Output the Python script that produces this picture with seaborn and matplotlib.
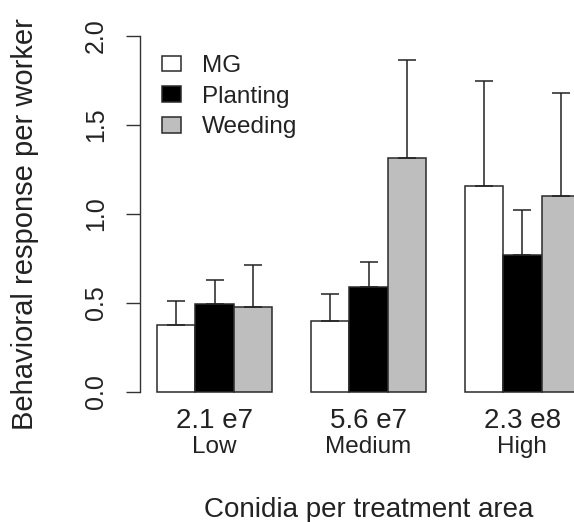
import matplotlib
matplotlib.use("Agg")
import matplotlib.pyplot as plt
import matplotlib.transforms as mtransforms
import seaborn as sns
import pandas as pd
from matplotlib.patches import Patch

# ---- data ----
concentrations = ["2.1 e7", "5.6 e7", "2.3 e8"]
levels = ["Low", "Medium", "High"]
groups = ["MG", "Planting", "Weeding"]
mg_mean = [0.376, 0.401, 1.159]
mg_se = [0.135, 0.148, 0.586]
planting_mean = [0.496, 0.590, 0.770]
planting_se = [0.133, 0.142, 0.254]
weeding_mean = [0.478, 1.316, 1.101]
weeding_se = [0.235, 0.547, 0.580]
colors = {"MG": "white", "Planting": "black", "Weeding": "#BEBEBE"}

means = {"MG": mg_mean, "Planting": planting_mean, "Weeding": weeding_mean}
ses = {"MG": mg_se, "Planting": planting_se, "Weeding": weeding_se}
rows = []
for g in groups:
    for c, m, s in zip(concentrations, means[g], ses[g]):
        rows.append({"conc": c, "group": g, "value": m, "se": s})
df = pd.DataFrame(rows)

sns.set_style("white")
plt.rcParams["font.family"] = ["Liberation Sans", "DejaVu Sans"]

W, H = 574, 522
fig = plt.figure(figsize=(W / 100, H / 100), dpi=100)
ax_left, ax_right = 140, 597
ax_top, ax_bot = 21.76, 406.24
ax = fig.add_axes([ax_left / W, 1 - ax_bot / H, (ax_right - ax_left) / W, (ax_bot - ax_top) / H])

sns.barplot(data=df, x="conc", y="value", hue="group", order=concentrations,
            hue_order=groups, palette=colors, edgecolor="#2a2a2a", linewidth=1.1,
            width=0.75, errorbar=None, legend=False, ax=ax)

# upper error bars
for cont, g in zip(ax.containers, groups):
    xs = [b.get_x() + b.get_width() / 2 for b in cont]
    hs = [b.get_height() for b in cont]
    ax.errorbar(xs, hs, yerr=[[0] * len(hs), ses[g]], fmt="none", ecolor="#222222",
                elinewidth=1.1, capsize=6.5, capthick=1.1, zorder=3)

ax.set_xlim(-0.485, 2.485)
ax.set_ylim(-0.08, 2.08)

for s in ["top", "right", "bottom"]:
    ax.spines[s].set_visible(False)
ax.spines["left"].set_bounds(0, 2)
ax.spines["left"].set_color("#333333")
ax.spines["left"].set_linewidth(1.0)

ax.set_yticks([0, 0.5, 1.0, 1.5, 2.0])
ax.set_yticklabels(["0.0", "0.5", "1.0", "1.5", "2.0"])
ax.tick_params(axis="y", direction="out", length=10, width=1.0, color="#333333",
               pad=13, labelsize=18, labelcolor="#222222", left=True)
for lab in ax.get_yticklabels():
    lab.set_rotation(90)
    lab.set_va("center")

ax.set_xticks(range(len(concentrations)))
ax.set_xticklabels(concentrations)
ax.tick_params(axis="x", length=0, pad=1.5, labelsize=20, labelcolor="#222222")

trans = mtransforms.blended_transform_factory(ax.transData, fig.transFigure)
for i, lv in enumerate(levels):
    ax.text(i, 1 - 453 / H, lv, transform=trans, ha="center", va="baseline",
            fontsize=17.5, color="#222222")

ax.set_xlabel("Conidia per treatment area", fontsize=20, color="#222222")
ax.xaxis.set_label_coords(0.5, (ax_bot - 517) / (ax_bot - ax_top))
ax.xaxis.label.set_va("baseline")

ax.set_ylabel("Behavioral response per worker", fontsize=21, color="#222222")
ax.yaxis.set_label_coords((33 - ax_left) / (ax_right - ax_left), (ax_bot - 224) / (ax_bot - ax_top))
ax.yaxis.label.set_va("baseline")

handles = [Patch(facecolor=colors[g], edgecolor="#2a2a2a", linewidth=1.1, label=g) for g in groups]
leg = fig.legend(handles=handles, loc="upper left", bbox_to_anchor=(162 / W, 1 - 55 / H),
                 frameon=False, fontsize=17.5, handlelength=0.8, handleheight=0.62,
                 handletextpad=0.85, labelspacing=0.36, borderpad=0, borderaxespad=0)
for t in leg.get_texts():
    t.set_color("#222222")

fig.savefig("out.png", dpi=100)
